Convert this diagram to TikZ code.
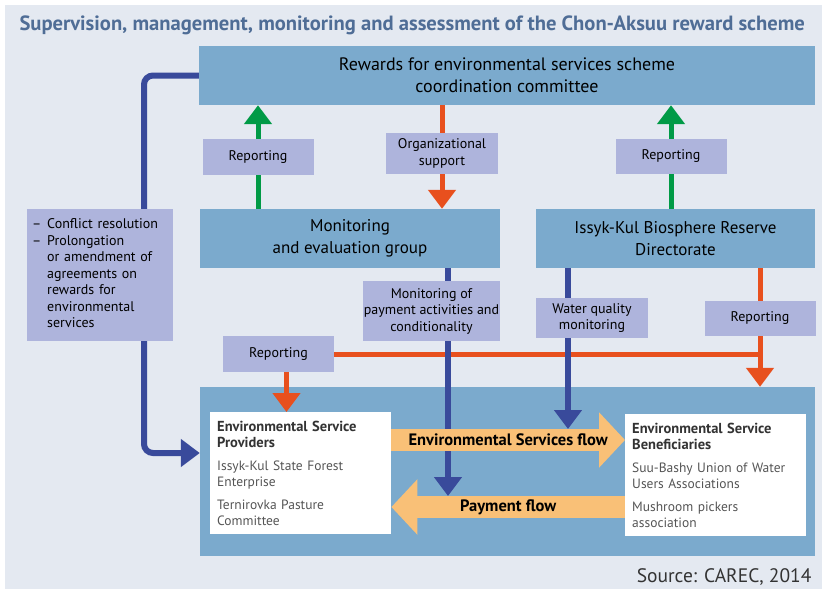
\documentclass[tikz,border=0pt]{standalone}
\usepackage{fontspec}
\setmainfont{PT Sans}
\usepackage{tikz}
\usetikzlibrary{arrows.meta}
\definecolor{paper}{HTML}{E4E9F1}
\definecolor{titleblue}{HTML}{4F6D96}
\definecolor{unitblue}{HTML}{7BAACD}
\definecolor{tagviolet}{HTML}{AEB4DC}
\definecolor{linkblue}{HTML}{394A9B}
\definecolor{linkgreen}{HTML}{009A46}
\definecolor{linkorange}{HTML}{E8501E}
\definecolor{flowpeach}{HTML}{F9C077}
\definecolor{partygrey}{HTML}{555555}
\pgfdeclarelayer{bg}
\pgfdeclarelayer{links}
\pgfsetlayers{bg,links,main}
\newcommand{\partyhead}[1]{{\bfseries\color{black!80}\fontsize{14.5}{16}\selectfont #1}}
\tikzset{wh/.style 2 args={minimum width=#1pt, minimum height=#2pt},
    unit/.style={fill=unitblue, inner sep=0pt, align=center,
        font=\fontsize{17}{22}\selectfont},
    tag/.style={fill=tagviolet, inner sep=0pt, align=center,
        font=\fontsize{14}{16.5}\selectfont},
    party/.style={fill=white, anchor=north west, inner sep=7pt, align=left,
        text width=167pt, minimum height=122pt, text=partygrey,
        font=\fontsize{13.5}{16}\selectfont},
    tip/.style={-{Triangle[width=27pt,length=19pt]}}}

\begin{document}
\begin{tikzpicture}[x=1pt, y=-1pt,
        bluelink/.style={draw=linkblue, line width=6pt},
        orangelink/.style={draw=linkorange, line width=5pt},
        greenlink/.style={draw=linkgreen, line width=5pt, tip},
        flow/.style={draw=flowpeach, line width=22pt,
            -{Triangle[width=54pt,length=26pt]}},
        flowtext/.style={font=\bfseries\fontsize{16.5}{18}\selectfont}]
    \useasboundingbox (0,0) rectangle (824,589);
    \begin{pgfonlayer}{bg}
        \fill[paper] (5,5) rectangle (822,589);
        \node[fill=unitblue, wh={615}{169}] (field) at (507.5,471.5) {};
    \end{pgfonlayer}
    % title and source
    \node[anchor=west, text=titleblue, font=\bfseries\fontsize{20.6}{22}\selectfont]
        (title) at (16,25) {Supervision, management, monitoring and assessment of the Chon-Aksuu reward scheme};
    \node[anchor=east, text=black!80, font=\fontsize{19.5}{22}\selectfont]
        (source) at (815,577) {Source: CAREC, 2014};
    % bodies
    \node[unit, wh={616}{59}, font=\fontsize{18}{22}\selectfont] (committee) at (507,75.5)
        {Rewards for environmental services scheme\\coordination committee};
    \node[unit, wh={300}{59}] (monitor) at (350,238.5)
        {Monitoring\\and evaluation group};
    \node[unit, wh={279}{59}] (issyk) at (675.5,238.5)
        {Issyk-Kul Biosphere Reserve\\Directorate};
    \node[party] (providers) at (210,412)
        {\partyhead{Environmental Service\\Providers}\\[7pt]
         Issyk-Kul State Forest\\Enterprise\\[7pt]
         Ternirovka Pasture\\Committee};
    \node[party] (beneficiaries) at (625,414)
        {\partyhead{Environmental Service\\Beneficiaries}\\[7pt]
         Suu-Bashy Union of Water\\Users Associations\\[7pt]
         Mushroom pickers\\association};
    % labels on the links
    \node[tag, wh={111}{36}] (rep1) at (258,157) {Reporting};
    \node[tag, wh={112}{41}] (orgsup) at (442,153.5) {Organizational\\support};
    \node[tag, wh={111}{35}] (rep2) at (671,156.5) {Reporting};
    \node[tag, wh={146}{132}, text width=136pt, align=left] (conflict) at (100,275)
        {\begin{tabular}{@{}l@{\hspace{6pt}}l@{}}
         --&Conflict resolution\\
         --&Prolongation\\
         &or amendment of\\
         &agreements on\\
         &rewards for\\
         &environmental\\
         &services
         \end{tabular}};
    \node[tag, wh={137}{60}] (paymon) at (431.5,311)
        {Monitoring of\\payment activities and\\conditionality};
    \node[tag, wh={112}{40}] (water) at (592,318) {Water quality\\monitoring};
    \node[tag, wh={111}{35}] (rep3) at (760,318.5) {Reporting};
    \node[tag, wh={111}{36}] (rep4) at (278.5,354) {Reporting};
    \coordinate (elbow) at (144,453);
    \coordinate (estop) at (0,429);
    \coordinate (esline) at (0,440);
    \coordinate (paytop) at (0,496);
    \coordinate (payline) at (0,507);
    \begin{pgfonlayer}{links}
        \draw[orangelink] (rep4.east) -- (rep4.east -| rep3.center);
        \draw[orangelink, tip] (rep3 |- issyk.south) -- (rep3 |- field.north);
        \draw[orangelink, tip] ([xshift=8]rep4.south) -- ([xshift=8]rep4.south |- providers.north);
        \draw[orangelink, tip] (orgsup |- committee.south) -- (orgsup |- monitor.north);
        \draw[bluelink, rounded corners=9pt, tip] (committee.west) -| (elbow) -- (elbow -| field.west);
        \draw[bluelink, tip] ([xshift=98]monitor.south) -- ([xshift=98]monitor.south |- paytop);
        \draw[bluelink, tip] ([xshift=-107.5]issyk.south) -- ([xshift=-107.5]issyk.south |- estop);
        \draw[greenlink] (rep1 |- monitor.north) -- (rep1 |- committee.south);
        \draw[greenlink] (rep2 |- issyk.north) -- (rep2 |- committee.south);
        \draw[flow] (providers.east |- esline) -- (beneficiaries.west |- esline)
            node[midway, flowtext] (esflow) {Environmental Services flow};
        \draw[flow] (beneficiaries.west |- payline) -- (providers.east |- payline)
            node[midway, flowtext] (payflow) {Payment flow};
    \end{pgfonlayer}
\end{tikzpicture}
\end{document}
